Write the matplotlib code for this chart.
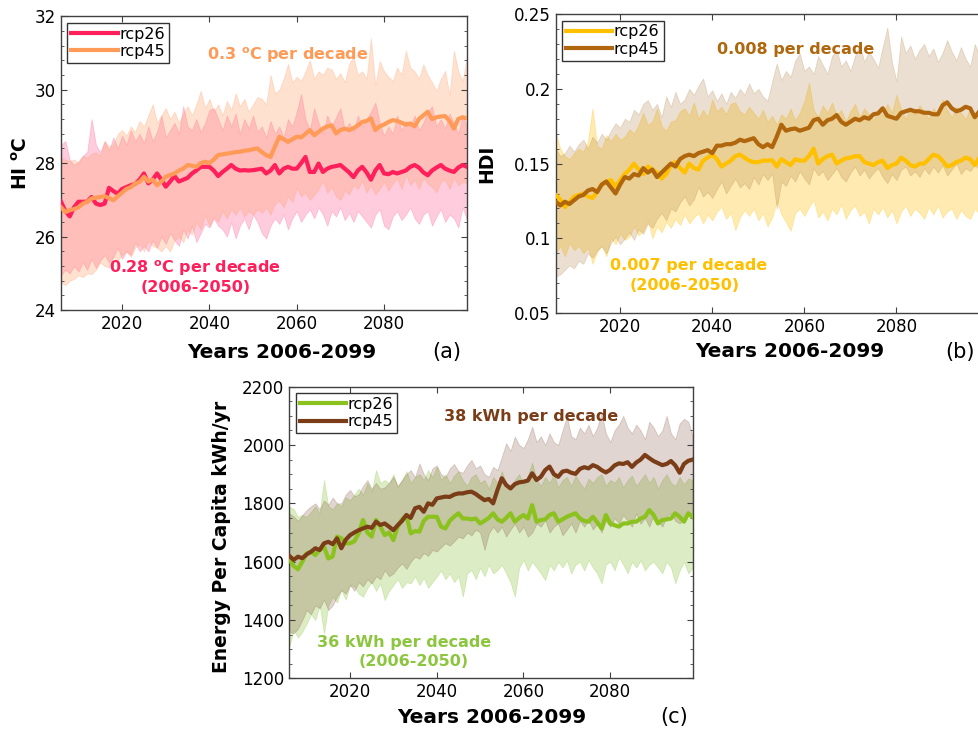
"""
HI / HDI / energy per capita under rcp26 and rcp45, 2006-2099.
Three panels (a), (b), (c): ensemble mean line with min-max spread band.
"""

import matplotlib
matplotlib.use("Agg")
import matplotlib.pyplot as plt
import numpy as np
from matplotlib.ticker import MultipleLocator, FuncFormatter

YEARS = np.arange(2006, 2100)

# ── (a) HI °C ────────────────────────────────────────────────────────────
HI_26 = [
    26.95, 26.7, 26.55, 26.8, 26.95, 26.95, 26.95, 27.08, 26.9, 26.86,
    26.9, 27.33, 27.24, 27.17, 27.3, 27.35, 27.4, 27.44, 27.55, 27.72,
    27.45, 27.55, 27.72, 27.55, 27.36, 27.5, 27.65, 27.5, 27.55, 27.6,
    27.72, 27.8, 27.9, 27.9, 27.9, 27.8, 27.65, 27.76, 27.85, 27.95,
    27.85, 27.8, 27.81, 27.8, 27.81, 27.83, 27.85, 27.72, 27.8, 27.95,
    27.72, 27.85, 27.9, 27.85, 27.85, 28.0, 28.17, 27.76, 27.76, 27.99,
    27.76, 27.85, 27.9, 27.92, 27.95, 27.85, 27.75, 27.62, 27.8, 27.9,
    27.75, 27.55, 27.8, 27.95, 27.72, 27.7, 27.76, 27.72, 27.76, 27.8,
    27.9, 27.95, 27.88, 27.75, 27.67, 27.8, 27.88, 27.95, 27.85, 27.8,
    27.76, 27.88, 27.95, 27.9,
]
HI_26_HI = [
    28.5, 28.6, 28.1, 27.95, 28.05, 28.2, 28.3, 29.2, 28.5, 28.3,
    28.6, 28.35, 28.7, 28.4, 28.75, 28.5, 28.9, 28.6, 28.8, 28.55,
    29.0, 28.6, 28.85, 29.3, 28.7, 28.9, 29.1, 28.8, 29.55, 29.0,
    28.9, 29.2, 28.85, 29.1, 29.45, 29.5, 29.2, 28.9, 29.3, 29.0,
    29.35, 28.8, 29.2, 28.95, 29.3, 28.85, 29.0, 28.7, 29.15, 28.8,
    29.0, 28.7, 29.2, 29.0, 29.4, 29.88, 29.2, 28.9, 29.5, 29.1,
    28.8, 29.3, 29.0, 29.25, 29.5, 28.9, 29.1, 28.85, 29.3, 29.0,
    29.2, 29.4, 29.65, 29.1, 28.75, 29.0, 28.8, 29.3, 28.9, 29.15,
    29.0, 29.3, 28.9, 29.1, 29.4, 29.55, 29.0, 29.2, 28.95, 29.35,
    29.1, 28.8, 29.3, 29.0,
]
HI_26_LO = [
    24.95, 25.1, 25.0, 25.2, 25.05, 25.3, 25.1, 25.4, 25.15, 25.35,
    25.5, 25.3, 25.45, 25.7, 25.4, 25.6, 25.5, 25.85, 25.6, 25.75,
    25.6, 25.9, 25.7, 26.0, 25.8, 26.1, 25.9, 25.75, 26.2, 25.95,
    26.3, 25.85, 26.1, 26.35, 26.25, 26.5, 26.3, 26.2, 26.0, 26.4,
    25.95, 26.3, 26.5, 26.2, 26.6, 26.4, 26.1, 25.95, 26.3, 26.5,
    26.35, 26.6, 26.2, 26.5, 26.7, 26.4, 26.6, 26.75, 26.5, 26.8,
    26.6, 26.3, 26.7, 26.55, 26.8, 26.45, 26.65, 26.4, 26.7, 26.55,
    26.4, 26.25, 26.6, 26.75, 26.3, 26.2, 26.55, 26.7, 26.45, 26.6,
    26.8, 26.5, 26.35, 26.6, 26.7, 26.3, 26.55, 26.75, 26.4, 26.6,
    26.5, 26.25, 26.8, 26.45,
]
HI_45 = [
    26.8, 26.67, 26.72, 26.75, 26.8, 26.9, 26.95, 27.04, 27.06, 27.08,
    27.1, 27.05, 26.99, 27.1, 27.2, 27.3, 27.35, 27.45, 27.49, 27.63,
    27.5, 27.55, 27.4, 27.5, 27.63, 27.68, 27.72, 27.8, 27.85, 27.95,
    27.93, 27.9, 28.0, 28.04, 28.0, 28.1, 28.22, 28.24, 28.26, 28.28,
    28.3, 28.31, 28.34, 28.35, 28.38, 28.4, 28.3, 28.22, 28.17, 28.45,
    28.72, 28.65, 28.58, 28.65, 28.72, 28.7, 28.8, 28.9, 28.76, 28.85,
    28.94, 29.0, 29.03, 28.81, 28.9, 28.94, 28.9, 28.95, 29.03, 29.12,
    29.15, 29.22, 28.9, 29.0, 29.05, 29.12, 29.17, 29.15, 29.1, 29.05,
    29.08, 29.0, 29.2, 29.3, 29.4, 29.2, 29.25, 29.27, 29.28, 29.15,
    28.94, 29.2, 29.25, 29.22,
]
HI_45_HI = [
    28.15, 28.1, 28.05, 28.1, 28.0, 28.2, 28.15, 28.25, 28.3, 28.2,
    28.6, 28.45, 28.5, 28.8, 28.9, 28.75, 29.0, 28.85, 29.15, 29.0,
    29.3, 29.6, 29.1, 29.3, 29.5, 29.2, 29.4, 29.1, 29.35, 29.55,
    29.3, 29.6, 29.97, 29.5, 29.75, 29.4, 29.6, 29.3, 29.7, 29.45,
    29.9, 29.55, 29.75, 29.4, 29.6, 29.8, 29.75, 29.6, 30.4, 29.9,
    30.0, 30.3, 30.7, 30.2, 30.35, 30.24, 30.5, 30.8, 30.3, 30.5,
    30.4, 30.6, 30.55, 30.3, 30.45, 30.2, 30.7, 30.9, 30.4, 30.5,
    30.3, 31.4, 30.1, 30.78, 30.5, 30.35, 30.24, 30.6, 30.4, 31.06,
    30.6, 30.5, 30.3, 30.69, 30.4, 30.2, 29.96, 30.3, 30.51, 29.85,
    31.06, 30.5, 30.24, 30.9,
]
HI_45_LO = [
    24.75, 24.68, 24.8, 24.85, 24.95, 24.9, 25.0, 24.98, 25.1, 25.3,
    25.2, 25.16, 25.45, 25.35, 25.5, 25.6, 25.45, 25.7, 25.8, 25.6,
    25.9, 25.75, 25.7, 25.6, 25.75, 25.6, 25.9, 26.0, 25.85, 26.2,
    26.05, 26.4, 26.2, 26.6, 26.3, 26.55, 26.4, 26.7, 26.5, 26.75,
    26.6, 26.8, 26.55, 26.7, 26.6, 26.75, 26.65, 26.8, 26.6, 26.9,
    26.98, 26.8, 27.1, 26.95, 27.34, 27.1, 27.2, 27.0, 27.15, 27.3,
    27.52, 27.2, 27.35, 27.1, 27.0, 27.25, 27.15, 27.4, 27.3, 27.52,
    27.2, 27.4, 27.15, 27.3, 27.5, 27.25, 27.45, 27.6, 27.3, 27.7,
    27.4, 27.55, 27.3, 27.6, 27.45, 27.35, 27.2, 27.5, 27.55, 27.3,
    27.6, 27.4, 27.5, 27.45,
]

# ── (b) HDI ──────────────────────────────────────────────────────────────
HDI_26 = [
    0.129, 0.126, 0.121, 0.124, 0.128, 0.129, 0.13, 0.128, 0.127, 0.131,
    0.136, 0.138, 0.139, 0.1345, 0.139, 0.143, 0.146, 0.15, 0.146, 0.143,
    0.148, 0.146, 0.144, 0.14, 0.143, 0.149, 0.151, 0.147, 0.144, 0.15,
    0.147, 0.146, 0.152, 0.154, 0.156, 0.153, 0.148, 0.15, 0.152, 0.155,
    0.156, 0.154, 0.152, 0.151, 0.151, 0.152, 0.152, 0.1523, 0.148, 0.153,
    0.151, 0.149, 0.153, 0.152, 0.152, 0.155, 0.16, 0.15, 0.153, 0.155,
    0.156, 0.15, 0.152, 0.1535, 0.154, 0.155, 0.155, 0.151, 0.15, 0.149,
    0.151, 0.152, 0.147, 0.149, 0.15, 0.154, 0.152, 0.149, 0.148, 0.15,
    0.15, 0.153, 0.156, 0.155, 0.152, 0.148, 0.149, 0.151, 0.152, 0.154,
    0.153, 0.149, 0.154, 0.155,
]
HDI_26_HI = [
    0.171, 0.16, 0.155, 0.153, 0.157, 0.16, 0.158, 0.165, 0.187, 0.162,
    0.16, 0.169, 0.165, 0.17, 0.166, 0.168, 0.173, 0.17, 0.176, 0.184,
    0.176, 0.178, 0.187, 0.175, 0.172, 0.178, 0.179, 0.185, 0.187, 0.182,
    0.191, 0.18, 0.186, 0.181, 0.193, 0.185, 0.188, 0.183, 0.19, 0.191,
    0.185, 0.183, 0.188, 0.184, 0.18, 0.186, 0.178, 0.182, 0.176, 0.183,
    0.18, 0.187, 0.179, 0.184, 0.192, 0.204, 0.186, 0.181, 0.189, 0.184,
    0.191, 0.182, 0.186, 0.178, 0.185, 0.19, 0.181, 0.187, 0.183, 0.179,
    0.186, 0.182, 0.19, 0.184, 0.196, 0.186, 0.18, 0.187, 0.183, 0.189,
    0.185, 0.18, 0.187, 0.183, 0.193, 0.186, 0.181, 0.188, 0.184, 0.18,
    0.187, 0.182, 0.179, 0.184,
]
HDI_26_LO = [
    0.09, 0.095, 0.088, 0.097, 0.092, 0.095, 0.09, 0.094, 0.083, 0.091,
    0.095, 0.088, 0.1, 0.096, 0.103, 0.099, 0.101, 0.108, 0.102, 0.105,
    0.112, 0.1, 0.108, 0.104, 0.111, 0.107, 0.113, 0.109, 0.116, 0.11,
    0.114, 0.117, 0.11, 0.116, 0.112, 0.118, 0.121, 0.113, 0.117, 0.1055,
    0.114, 0.119, 0.115, 0.12, 0.112, 0.117, 0.108, 0.114, 0.125, 0.116,
    0.111, 0.105, 0.117, 0.12, 0.115, 0.121, 0.1256, 0.114, 0.118, 0.112,
    0.12, 0.116, 0.123, 0.113, 0.119, 0.122, 0.115, 0.118, 0.11, 0.12,
    0.116, 0.121, 0.114, 0.119, 0.11, 0.118, 0.122, 0.115, 0.12, 0.117,
    0.113, 0.121, 0.116, 0.122, 0.114, 0.118, 0.12, 0.113, 0.119, 0.115,
    0.113, 0.12, 0.116, 0.113,
]
HDI_45 = [
    0.1245, 0.122, 0.1245, 0.123, 0.1255, 0.128, 0.129, 0.132, 0.133, 0.131,
    0.136, 0.138, 0.134, 0.130, 0.136, 0.141, 0.14, 0.143, 0.142, 0.147,
    0.144, 0.146, 0.141, 0.144, 0.147, 0.15, 0.148, 0.153, 0.155, 0.156,
    0.155, 0.157, 0.158, 0.159, 0.157, 0.162, 0.162, 0.163, 0.163, 0.164,
    0.166, 0.165, 0.166, 0.167, 0.163, 0.161, 0.163, 0.161, 0.168, 0.176,
    0.172, 0.173, 0.1735, 0.172, 0.173, 0.174, 0.179, 0.18, 0.176, 0.179,
    0.18, 0.1825, 0.178, 0.176, 0.178, 0.18, 0.179, 0.181, 0.18, 0.183,
    0.1836, 0.187, 0.182, 0.181, 0.18, 0.184, 0.185, 0.186, 0.185, 0.185,
    0.184, 0.184, 0.183, 0.183, 0.189, 0.191, 0.187, 0.185, 0.186, 0.188,
    0.187, 0.181, 0.185, 0.186,
]
HDI_45_HI = [
    0.16, 0.155, 0.157, 0.162, 0.158, 0.163, 0.166, 0.16, 0.168, 0.164,
    0.17, 0.166, 0.172, 0.177, 0.174, 0.18, 0.178, 0.186, 0.183, 0.19,
    0.1925, 0.186, 0.19, 0.181, 0.195, 0.188, 0.198, 0.19, 0.193, 0.2,
    0.196, 0.202, 0.207, 0.195, 0.199, 0.192, 0.197, 0.19, 0.198, 0.194,
    0.2, 0.196, 0.2036, 0.197, 0.2, 0.195, 0.192, 0.205, 0.217, 0.206,
    0.212, 0.208, 0.219, 0.2237, 0.212, 0.215, 0.21, 0.222, 0.216, 0.21,
    0.222, 0.226, 0.215, 0.219, 0.212, 0.222, 0.23, 0.218, 0.225, 0.22,
    0.214, 0.228, 0.241, 0.218, 0.205, 0.235, 0.224, 0.229, 0.22, 0.226,
    0.23, 0.222, 0.227, 0.218, 0.224, 0.2326, 0.225, 0.219, 0.228, 0.22,
    0.215, 0.23, 0.222, 0.228,
]
HDI_45_LO = [
    0.0743, 0.076, 0.079, 0.082, 0.08, 0.085, 0.083, 0.09, 0.087, 0.092,
    0.095, 0.09, 0.097, 0.101, 0.096, 0.1, 0.104, 0.099, 0.106, 0.103,
    0.11, 0.107, 0.113, 0.117, 0.112, 0.12, 0.118, 0.124, 0.128, 0.122,
    0.126, 0.1345, 0.128, 0.131, 0.127, 0.133, 0.138, 0.13, 0.135, 0.14,
    0.134, 0.137, 0.133, 0.141, 0.136, 0.143, 0.139, 0.1434, 0.12, 0.138,
    0.135, 0.142, 0.138, 0.145, 0.14, 0.136, 0.147, 0.142, 0.145, 0.139,
    0.143, 0.147, 0.141, 0.138, 0.144, 0.148, 0.142, 0.146, 0.14, 0.144,
    0.147, 0.141, 0.137, 0.143, 0.139, 0.146, 0.148, 0.142, 0.145, 0.141,
    0.147, 0.143, 0.148, 0.144, 0.149, 0.142, 0.146, 0.15, 0.143, 0.147,
    0.145, 0.149, 0.146, 0.15,
]

# ── (c) Energy per capita kWh/yr ─────────────────────────────────────────
EN_26 = [
    1610, 1585, 1574, 1600, 1628, 1634, 1623, 1640, 1651, 1611,
    1618, 1686, 1680, 1663, 1663, 1670, 1697, 1743, 1700, 1686,
    1743, 1720, 1691, 1700, 1674, 1720, 1745, 1760, 1697, 1705,
    1703, 1740, 1754, 1754, 1754, 1720, 1714, 1740, 1754, 1766,
    1748, 1748, 1745, 1748, 1731, 1740, 1750, 1766, 1745, 1737,
    1750, 1766, 1737, 1750, 1760, 1748, 1794, 1737, 1743, 1745,
    1760, 1766, 1737, 1745, 1754, 1760, 1766, 1748, 1740, 1737,
    1754, 1735, 1714, 1760, 1731, 1725, 1720, 1731, 1731, 1737,
    1737, 1748, 1754, 1777, 1760, 1731, 1743, 1745, 1748, 1766,
    1754, 1737, 1766, 1754,
]
EN_26_HI = [
    1789, 1780, 1754, 1760, 1754, 1770, 1790, 1765, 1880, 1790,
    1780, 1800, 1790, 1820, 1811, 1830, 1850, 1830, 1870, 1840,
    1914, 1870, 1880, 1869, 1900, 1855, 1880, 1910, 1870, 1890,
    1900, 1880, 1914, 1890, 1925, 1880, 1900, 1870, 1895, 1910,
    1880, 1860, 1890, 1900, 1870, 1880, 1850, 1890, 1870, 1910,
    1870, 1850, 1880, 1900, 1860, 1895, 1940, 1880, 1860, 1890,
    1870, 1900, 1855, 1880, 1890, 1860, 1895, 1870, 1850, 1885,
    1870, 1890, 1900, 1860, 1880, 1870, 1890, 1855, 1880, 1895,
    1860, 1880, 1900, 1870, 1890, 1850, 1880, 1900, 1870, 1860,
    1890, 1865, 1885, 1880,
]
EN_26_LO = [
    1308, 1366, 1340, 1360, 1388, 1420, 1400, 1451, 1354, 1450,
    1480, 1460, 1503, 1470, 1520, 1514, 1490, 1480, 1510, 1530,
    1500, 1525, 1468, 1500, 1520, 1540, 1510, 1530, 1526, 1550,
    1520, 1545, 1510, 1530, 1549, 1570, 1540, 1560, 1530, 1550,
    1480, 1560, 1571, 1540, 1580, 1550, 1590, 1560, 1571, 1590,
    1560, 1530, 1480, 1580, 1606, 1570, 1600, 1580, 1560, 1537,
    1590, 1570, 1600, 1580, 1605, 1560, 1590, 1600, 1570, 1606,
    1580, 1560, 1526, 1590, 1600, 1570, 1615, 1590, 1560, 1600,
    1580, 1605, 1570, 1590, 1600, 1580, 1560, 1600, 1580, 1526,
    1570, 1600, 1560, 1580,
]
EN_45 = [
    1620, 1606, 1617, 1612, 1625, 1634, 1646, 1640, 1663, 1668,
    1660, 1680, 1646, 1675, 1691, 1700, 1708, 1714, 1720, 1716,
    1737, 1726, 1731, 1720, 1708, 1725, 1740, 1760, 1750, 1783,
    1788, 1771, 1800, 1795, 1817, 1820, 1823, 1822, 1830, 1834,
    1834, 1838, 1840, 1832, 1821, 1811, 1815, 1800, 1846, 1886,
    1863, 1851, 1866, 1872, 1874, 1878, 1903, 1880, 1891, 1914,
    1926, 1900, 1891, 1909, 1912, 1905, 1901, 1918, 1924, 1920,
    1931, 1925, 1914, 1906, 1915, 1930, 1937, 1935, 1941, 1925,
    1940, 1950, 1966, 1955, 1945, 1938, 1931, 1935, 1945, 1930,
    1905, 1935, 1946, 1950,
]
EN_45_HI = [
    1766, 1755, 1740, 1760, 1777, 1790, 1800, 1780, 1810, 1795,
    1820, 1800, 1800, 1830, 1846, 1825, 1830, 1860, 1880, 1850,
    1870, 1850, 1855, 1870, 1891, 1860, 1880, 1900, 1914, 1890,
    1937, 1900, 1880, 1920, 1930, 1900, 1890, 1920, 1935, 1910,
    1905, 1930, 1949, 1920, 1930, 1900, 1891, 1925, 1914, 1960,
    2006, 1980, 2029, 2000, 1990, 2020, 2063, 2010, 2030, 2000,
    2040, 2010, 2000, 2050, 2097, 2030, 2020, 2060, 2040, 2070,
    2030, 2060, 2109, 2040, 2010, 2050, 2070, 2100, 2060, 2040,
    2070, 2050, 2020, 2080, 2060, 2030, 2050, 2100, 2040, 2020,
    2074, 2090, 2080, 2030,
]
EN_45_LO = [
    1360, 1354, 1370, 1400, 1434, 1420, 1450, 1440, 1470, 1434,
    1450, 1480, 1503, 1490, 1520, 1500, 1530, 1515, 1540, 1525,
    1550, 1540, 1571, 1550, 1560, 1580, 1594, 1575, 1600, 1617,
    1610, 1630, 1620, 1640, 1635, 1650, 1663, 1655, 1670, 1686,
    1680, 1700, 1690, 1710, 1700, 1640, 1697, 1720, 1700, 1720,
    1686, 1710, 1730, 1700, 1720, 1686, 1700, 1731, 1720, 1743,
    1700, 1720, 1731, 1690, 1710, 1731, 1700, 1740, 1720, 1743,
    1710, 1731, 1700, 1740, 1720, 1750, 1731, 1760, 1740, 1720,
    1766, 1730, 1750, 1720, 1760, 1740, 1720, 1755, 1766, 1740,
    1731, 1750, 1760, 1745,
]

SCENARIOS = ["rcp26", "rcp45"]
FRAME = "#404040"


def draw_panel(ax, series, line_colors, band_colors, band_alphas,
               ylim, ystep, yminor, ylabel):
    # series: [(lo, hi, mean) for rcp26, rcp45]
    for (lo, hi, _), c, a in zip(series, band_colors, band_alphas):
        ax.fill_between(YEARS, lo, hi, facecolor=c, edgecolor=c, alpha=a,
                        linewidth=0.6, zorder=1)
    for (_, _, m), c, name in zip(series, line_colors, SCENARIOS):
        ax.plot(YEARS, m, color=c, linewidth=3, label=name, zorder=3)

    ax.set_xlim(2006, 2099)
    ax.set_ylim(*ylim)
    ax.xaxis.set_major_locator(MultipleLocator(20))
    ax.yaxis.set_major_locator(MultipleLocator(ystep))
    ax.yaxis.set_minor_locator(MultipleLocator(yminor))
    ax.yaxis.set_major_formatter(FuncFormatter(lambda v, _: f"{v:g}"))
    ax.tick_params(which="both", direction="in", top=True, right=True,
                   color=FRAME, labelsize=12, labelcolor="black")
    ax.tick_params(which="major", length=4, width=0.8)
    ax.tick_params(which="minor", length=2.5, width=0.6)
    for sp in ax.spines.values():
        sp.set_color(FRAME)
        sp.set_linewidth(1.0)

    ax.set_ylabel(ylabel, fontsize=13.5, fontweight="bold")
    ax.set_xlabel("Years 2006-2099", fontsize=14.5, fontweight="bold")
    ax.xaxis.label.set_va("center")
    ax.yaxis.label.set_va("center")

    leg = ax.legend(loc="upper left", fontsize=11.5, handlelength=2.9,
                    handletextpad=0.1, borderpad=0.25, labelspacing=0.15,
                    borderaxespad=0.4, fancybox=False, framealpha=1)
    leg.get_frame().set_edgecolor("#333333")
    leg.get_frame().set_linewidth(1.0)


fig = plt.figure(figsize=(9.79, 7.35), dpi=100)

# (a)
ax_a = fig.add_axes([0.0623, 0.578, 0.4147, 0.400])
draw_panel(ax_a,
           [(HI_26_LO, HI_26_HI, HI_26), (HI_45_LO, HI_45_HI, HI_45)],
           ["#ff1f5b", "#ff9a57"], ["#ff6e9e", "#ff9e66"], [0.35, 0.3],
           (24, 32), 2, 0.4, r"HI $^{\mathbf{o}}$C")
ax_a.xaxis.set_label_coords(0.544, -0.143)
ax_a.yaxis.set_label_coords(-0.097, 0.5)
ax_a.text(2058, 30.94, r"0.3 $^{\mathbf{o}}$C per decade", color="#ff9a57",
          fontsize=11.5, fontweight="bold", ha="center", va="center")
ax_a.text(2036.6, 25.14, r"0.28 $^{\mathbf{o}}$C per decade", color="#ff1f5b",
          fontsize=11.5, fontweight="bold", ha="center", va="center")
ax_a.text(2036.8, 24.63, "(2006-2050)", color="#ff1f5b",
          fontsize=11.5, fontweight="bold", ha="center", va="center")

# (b)
ax_b = fig.add_axes([0.5676, 0.574, 0.4375, 0.4068])
draw_panel(ax_b,
           [(HDI_26_LO, HDI_26_HI, HDI_26), (HDI_45_LO, HDI_45_HI, HDI_45)],
           ["#ffc000", "#b0660c"], ["#ffc000", "#a8702e"], [0.3, 0.22],
           (0.05, 0.25), 0.05, 0.01, "HDI")
ax_b.xaxis.set_label_coords(0.547, -0.130)
ax_b.yaxis.set_label_coords(-0.16, 0.5)
ax_b.text(2058, 0.2266, "0.008 per decade", color="#b0660c",
          fontsize=11.5, fontweight="bold", ha="center", va="center")
ax_b.text(2034.9, 0.0816, "0.007 per decade", color="#ffc000",
          fontsize=11.5, fontweight="bold", ha="center", va="center")
ax_b.text(2034.1, 0.0683, "(2006-2050)", color="#ffc000",
          fontsize=11.5, fontweight="bold", ha="center", va="center")

# (c)
ax_c = fig.add_axes([0.2955, 0.0771, 0.412, 0.3968])
draw_panel(ax_c,
           [(EN_26_LO, EN_26_HI, EN_26), (EN_45_LO, EN_45_HI, EN_45)],
           ["#8cc21e", "#7a3d17"], ["#8cc63f", "#75402a"], [0.3, 0.22],
           (1200, 2200), 200, 50, "Energy Per Capita kWh/yr")
ax_c.xaxis.set_label_coords(0.502, -0.136)
ax_c.yaxis.set_label_coords(-0.168, 0.486)
ax_c.text(2061.8, 2097, "38 kWh per decade", color="#7a3d17",
          fontsize=11.5, fontweight="bold", ha="center", va="center")
ax_c.text(2032.4, 1322, "36 kWh per decade", color="#8cc63f",
          fontsize=11.5, fontweight="bold", ha="center", va="center")
ax_c.text(2034.6, 1257, "(2006-2050)", color="#8cc63f",
          fontsize=11.5, fontweight="bold", ha="center", va="center")

# panel letters
fig.text(0.456, 0.521, "(a)", fontsize=15, ha="center", va="center")
fig.text(0.981, 0.521, "(b)", fontsize=15, ha="center", va="center")
fig.text(0.689, 0.0245, "(c)", fontsize=15, ha="center", va="center")

fig.savefig("out.png", dpi=100)
plt.close(fig)
